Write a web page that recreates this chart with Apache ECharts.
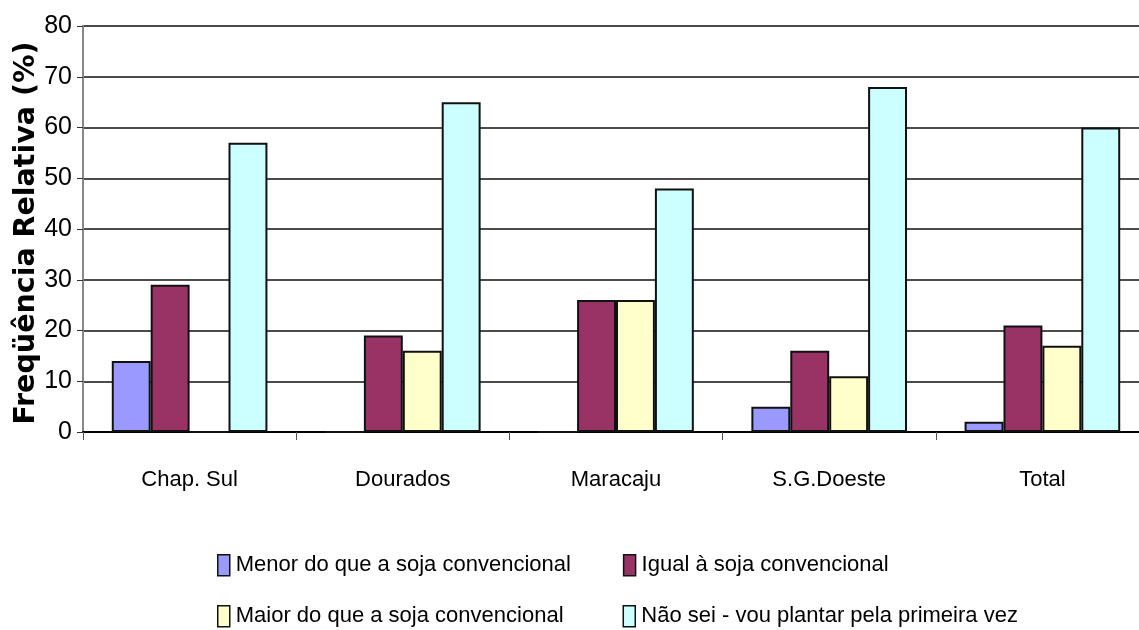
<!DOCTYPE html>
<html>
<head>
<meta charset="utf-8">
<script src="https://cdn.jsdelivr.net/npm/echarts@6/dist/echarts.min.js"></script>
<style>
  html, body { margin: 0; padding: 0; background: #fff; }
  #chart { width: 1139px; height: 630px; }
</style>
</head>
<body>
<div id="chart"></div>
<script>
// Municipalities surveyed plus the overall total
const categories = ['Chap. Sul', 'Dourados', 'Maracaju', 'S.G.Doeste', 'Total'];

// Relative frequency (%) for each answer
const menor = [14, 0, 0, 5, 2];
const igual = [29, 19, 26, 16, 21];
const maior = [0, 16, 26, 11, 17];
const naoSei = [57, 65, 48, 68, 60];

const seriesNames = [
  'Menor do que a soja convencional',
  'Igual à soja convencional',
  'Maior do que a soja convencional',
  'Não sei - vou plantar pela primeira vez'
];
const seriesColors = ['#9999FF', '#993366', '#FFFFCC', '#CCFFFF'];
const seriesData = [menor, igual, maior, naoSei];

const yTicks = [0, 10, 20, 30, 40, 50, 60, 70, 80];

const sans = '"Liberation Sans", Arial, sans-serif';

const chart = echarts.init(document.getElementById('chart'), null, { renderer: 'canvas' });

// Two legend rows, two entries each
const legendCommon = {
  left: 217,
  orient: 'horizontal',
  padding: 0,
  itemWidth: 12,
  itemHeight: 21,
  icon: 'rect',
  selectedMode: false,
  itemStyle: { borderColor: '#111', borderWidth: 1.5 },
  textStyle: { fontFamily: sans, fontSize: 22, color: '#000', padding: [0, 0, 0, 1] }
};

chart.setOption({
  animation: false,
  backgroundColor: '#fff',
  grid: { left: 83, right: -10, top: 26, bottom: 198, containLabel: false, outerBoundsMode: 'none' },
  legend: [
    Object.assign({}, legendCommon, { top: 554, itemGap: 52, data: [seriesNames[0], seriesNames[1]] }),
    Object.assign({}, legendCommon, { top: 605, itemGap: 59, data: [seriesNames[2], seriesNames[3]] })
  ],
  xAxis: {
    type: 'category',
    data: categories,
    boundaryGap: true,
    axisLine: { lineStyle: { color: '#000', width: 2 } },
    axisTick: { show: true, length: 8, lineStyle: { color: '#555', width: 1 } },
    axisLabel: { fontFamily: sans, fontSize: 22, color: '#000', margin: 37 },
    splitLine: { show: false }
  },
  yAxis: {
    type: 'value',
    min: yTicks[0],
    max: yTicks[yTicks.length - 1],
    interval: 10,
    name: 'Freqüência Relativa (%)',
    nameLocation: 'middle',
    nameRotate: 90,
    nameGap: 42,
    nameMoveOverlap: false,
    nameTextStyle: {
      fontFamily: '"DejaVu Sans", sans-serif', fontWeight: 'bold', fontSize: 28.5, color: '#000',
      padding: [0, 8, 0, 0]
    },
    axisLine: { show: true, lineStyle: { color: '#888', width: 2 } },
    axisTick: { show: true, length: 6, lineStyle: { color: '#333', width: 1 } },
    axisLabel: { fontFamily: sans, fontSize: 25, color: '#000', margin: 11 },
    splitLine: { show: true, lineStyle: { color: '#111', width: 1.6 } }
  },
  series: seriesData.map((d, i) => ({
    name: seriesNames[i],
    type: 'bar',
    data: d,
    barGap: '0%',
    barCategoryGap: '27%',
    itemStyle: { color: seriesColors[i], borderColor: '#111', borderWidth: 2 }
  }))
});
</script>
</body>
</html>
